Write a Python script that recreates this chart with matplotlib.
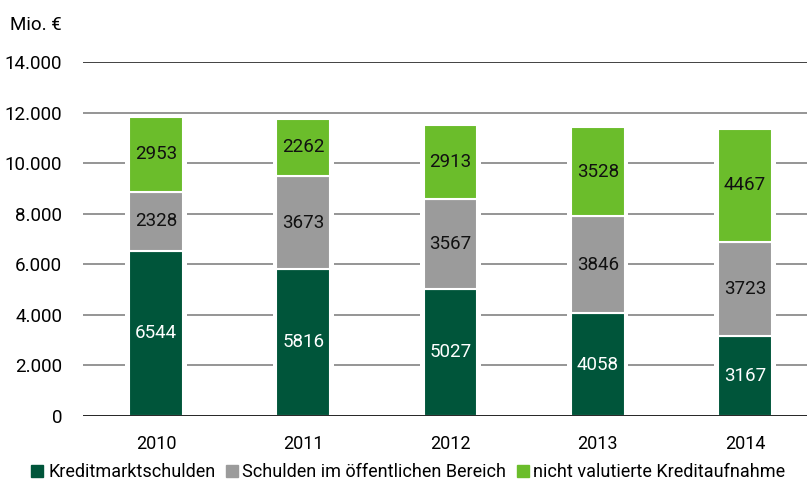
import numpy as np
import matplotlib.pyplot as plt
from matplotlib.lines import Line2D

years = ['2010', '2011', '2012', '2013', '2014']
kreditmarkt = [6544, 5816, 5027, 4058, 3167]
oeffentlich = [2328, 3673, 3567, 3846, 3723]
nicht_valutiert = [2953, 2262, 2913, 3528, 4467]
series_names = ['Kreditmarktschulden', 'Schulden im öffentlichen Bereich',
                'nicht valutierte Kreditaufnahme']
colors = ['#00553a', '#9b9b9b', '#6bbd2b']
label_colors = ['white', '#111111', '#111111']
yticks = [0, 2000, 4000, 6000, 8000, 10000, 12000, 14000]

plt.rcParams['font.family'] = ['Roboto', 'DejaVu Sans']

fig = plt.figure(figsize=(8.07, 4.82), dpi=100)
ax = fig.add_axes([83 / 807, 66 / 482, 1 - 83 / 807, 354 / 482])

x = np.arange(len(years))
width = 0.366
series = [kreditmarkt, oeffentlich, nicht_valutiert]
totals = np.sum(series, axis=0)

# gridlines, gap around the bars comes from a white backing bar
for t in yticks[1:-1]:
    ax.axhline(t, color='#8c8c8c', lw=1.3, zorder=1)
ax.axhline(14000, color='#333333', lw=1.3, zorder=1)
ax.bar(x, totals, width=width + 0.05, color='white', zorder=2)

bottom = np.zeros(len(years))
for vals, col, lcol in zip(series, colors, label_colors):
    vals = np.array(vals)
    ax.bar(x, vals, width=width, bottom=bottom, color=col,
           edgecolor='white', linewidth=1.5, zorder=3)
    for xi, b, v in zip(x, bottom, vals):
        ax.text(xi, b + v / 2, str(v), ha='center', va='center',
                color=lcol, fontsize=13.5, zorder=4)
    bottom += vals

ax.axhline(0, color='#111111', lw=2, zorder=5)

ax.set_xlim(-0.495, 4.42)
ax.set_ylim(0, 14000)
ax.set_yticks(yticks)
ax.set_yticklabels([f'{t:,}'.replace(',', '.') for t in yticks], fontsize=13.5)
ax.set_xticks(x)
ax.set_xticklabels(years, fontsize=13)
ax.tick_params(axis='y', length=0, pad=15)
ax.tick_params(axis='x', length=0, pad=14)
for s in ax.spines.values():
    s.set_visible(False)

fig.text(10 / 807, 1 - 25 / 482, 'Mio. €', fontsize=13.5, va='center')

handles = [Line2D([], [], marker='s', ls='', color=c, markersize=8)
           for c in colors]
fig.legend(handles, series_names, loc='center left',
           bbox_to_anchor=(30 / 807, 1 - 472 / 482), ncol=3, frameon=False,
           handletextpad=0.2, columnspacing=0.5, borderaxespad=0,
           borderpad=0, handlelength=0.8,
           prop={'size': 13})

fig.savefig('out.png', dpi=100)
